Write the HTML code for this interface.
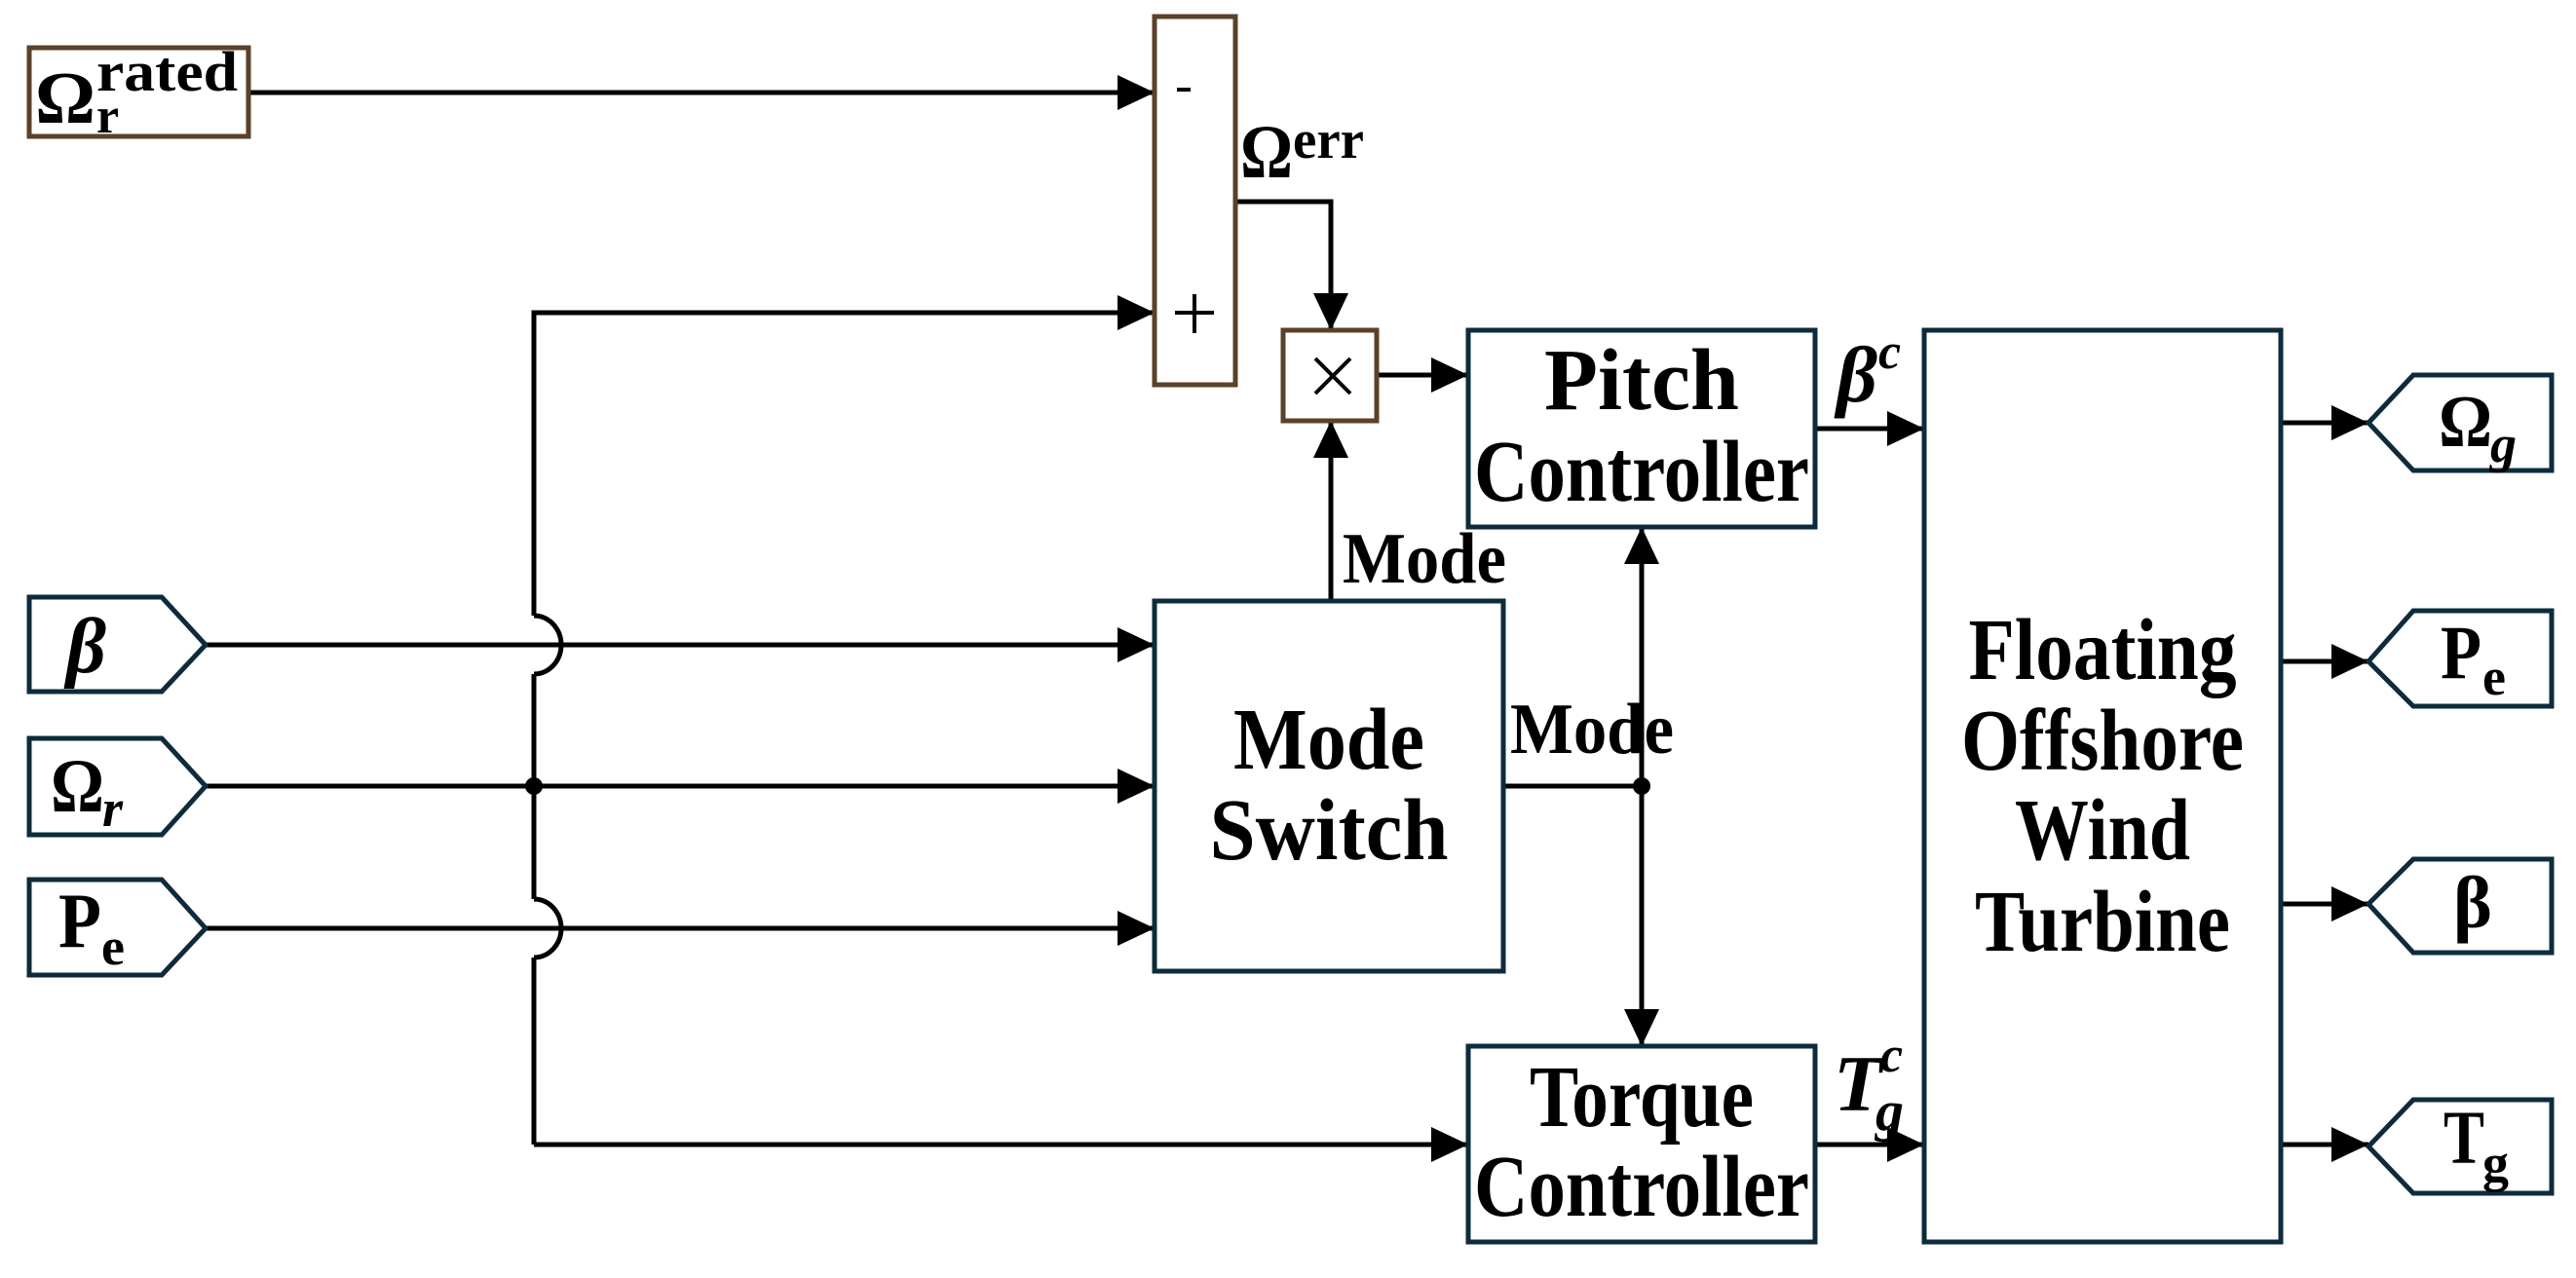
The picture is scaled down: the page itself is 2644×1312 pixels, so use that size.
<!DOCTYPE html>
<html><head><meta charset="utf-8"><style>
html,body{margin:0;padding:0;background:#fff}
svg{display:block}
text{font-family:"Liberation Serif",serif;font-weight:bold;fill:#000}
</style></head><body>
<svg width="2644" height="1312" viewBox="0 0 2644 1312" xmlns="http://www.w3.org/2000/svg">
<defs>
<marker id="a" viewBox="0 0 38 36" refX="38" refY="18" markerWidth="38" markerHeight="36" markerUnits="userSpaceOnUse" orient="auto">
<path d="M0,0 L38,18 L0,36 Z" fill="#000"/></marker>
</defs>
<g fill="none" stroke="#000" stroke-width="5">
<line x1="255" y1="95" x2="1185" y2="95" marker-end="url(#a)"/>
<polyline points="548,1175 548,983" />
<path d="M548,983 A28,30 0 0 0 548,923"/>
<line x1="548" y1="923" x2="548" y2="692"/>
<path d="M548,692 A28,30 0 0 0 548,632"/>
<polyline points="548,632 548,321 1185,321" marker-end="url(#a)"/>
<line x1="548" y1="1175" x2="1507" y2="1175" marker-end="url(#a)"/>
<line x1="211" y1="662" x2="1185" y2="662" marker-end="url(#a)"/>
<line x1="211" y1="807" x2="1185" y2="807" marker-end="url(#a)"/>
<line x1="211" y1="953" x2="1185" y2="953" marker-end="url(#a)"/>
<polyline points="1268,207 1366,207 1366,339" marker-end="url(#a)"/>
<line x1="1366" y1="617" x2="1366" y2="432" marker-end="url(#a)"/>
<line x1="1413" y1="385" x2="1507" y2="385" marker-end="url(#a)"/>
<line x1="1543" y1="807" x2="1685" y2="807"/>
<line x1="1685" y1="807" x2="1685" y2="541" marker-end="url(#a)"/>
<line x1="1685" y1="807" x2="1685" y2="1074" marker-end="url(#a)"/>
<line x1="1863" y1="440" x2="1975" y2="440" marker-end="url(#a)"/>
<line x1="1863" y1="1175" x2="1975" y2="1175" marker-end="url(#a)"/>
<line x1="2341" y1="434" x2="2431" y2="434" marker-end="url(#a)"/>
<line x1="2341" y1="679" x2="2431" y2="679" marker-end="url(#a)"/>
<line x1="2341" y1="928" x2="2431" y2="928" marker-end="url(#a)"/>
<line x1="2341" y1="1175" x2="2431" y2="1175" marker-end="url(#a)"/>
</g>
<circle cx="548" cy="807" r="9" fill="#000"/>
<circle cx="1685" cy="807" r="9" fill="#000"/>
<g fill="#fff" stroke="#5a4128" stroke-width="5">
<rect x="30" y="49" width="225" height="91"/>
<rect x="1185" y="17" width="83" height="378"/>
<rect x="1317" y="339" width="96" height="93"/>
</g>
<g fill="#fff" stroke="#0d2b3b" stroke-width="5">
<rect x="1507" y="339" width="356" height="202"/>
<rect x="1185" y="617" width="358" height="380"/>
<rect x="1507" y="1074" width="356" height="201"/>
<rect x="1975" y="339" width="366" height="936"/>
<polygon points="30,613 166,613 211,662 166,710 30,710"/>
<polygon points="30,758 166,758 211,807 166,857 30,857"/>
<polygon points="30,903 166,903 211,953 166,1001 30,1001"/>
<polygon points="2431,434 2477,385 2619,385 2619,483 2477,483"/>
<polygon points="2431,679 2477,627 2619,627 2619,725 2477,725"/>
<polygon points="2431,928 2477,882 2619,882 2619,978 2477,978"/>
<polygon points="2431,1177 2477,1129 2619,1129 2619,1225 2477,1225"/>
</g>
<g stroke="#000" stroke-width="4">
<line x1="1208" y1="92" x2="1222" y2="92"/>
<line x1="1206" y1="321" x2="1246" y2="321"/>
<line x1="1226" y1="302" x2="1226" y2="342"/>
<line x1="1350" y1="368" x2="1386" y2="404"/>
<line x1="1386" y1="368" x2="1350" y2="404"/>
</g>
<text x="36" y="126" font-size="76" textLength="62" lengthAdjust="spacingAndGlyphs">Ω</text>
<text x="99" y="93" font-size="58" textLength="145" lengthAdjust="spacingAndGlyphs">rated</text>
<text x="99" y="136" font-size="52">r</text>
<text x="1273" y="182" font-size="78" textLength="54" lengthAdjust="spacingAndGlyphs">Ω</text>
<text x="1327" y="162" font-size="56" textLength="73" lengthAdjust="spacingAndGlyphs">err</text>
<g font-size="90" text-anchor="middle">
<text x="1685" y="420" textLength="200" lengthAdjust="spacingAndGlyphs">Pitch</text>
<text x="1685" y="514" textLength="344" lengthAdjust="spacingAndGlyphs">Controller</text>
<text x="1364" y="789" textLength="196" lengthAdjust="spacingAndGlyphs">Mode</text>
<text x="1364" y="882" textLength="245" lengthAdjust="spacingAndGlyphs">Switch</text>
<text x="1685" y="1156" textLength="230" lengthAdjust="spacingAndGlyphs">Torque</text>
<text x="1685" y="1248" textLength="344" lengthAdjust="spacingAndGlyphs">Controller</text>
<text x="2158" y="697" textLength="275" lengthAdjust="spacingAndGlyphs">Floating</text>
<text x="2158" y="790" textLength="290" lengthAdjust="spacingAndGlyphs">Offshore</text>
<text x="2158" y="882" textLength="180" lengthAdjust="spacingAndGlyphs">Wind</text>
<text x="2158" y="976" textLength="262" lengthAdjust="spacingAndGlyphs">Turbine</text>
</g>
<text x="1378" y="598" font-size="74" textLength="168" lengthAdjust="spacingAndGlyphs">Mode</text>
<text x="1550" y="773" font-size="74" textLength="168" lengthAdjust="spacingAndGlyphs">Mode</text>
<text x="1885" y="412" font-size="82" font-style="italic">β</text>
<text x="1928" y="378" font-size="52" font-style="italic">c</text>
<text x="1882" y="1140" font-size="82" font-style="italic">T</text>
<text x="1930" y="1100" font-size="52" font-style="italic">c</text>
<text x="1925" y="1160" font-size="58" font-style="italic">g</text>
<text x="68" y="690" font-size="80" font-style="italic">β</text>
<text x="52" y="833" font-size="78" textLength="55" lengthAdjust="spacingAndGlyphs">Ω</text>
<text x="105" y="848" font-size="54" font-style="italic">r</text>
<text x="60" y="972" font-size="80" textLength="44" lengthAdjust="spacingAndGlyphs">P</text>
<text x="104" y="990" font-size="54">e</text>
<text x="2503" y="458" font-size="76" textLength="55" lengthAdjust="spacingAndGlyphs">Ω</text>
<text x="2556" y="474" font-size="54" font-style="italic">g</text>
<text x="2505" y="696" font-size="78" textLength="42" lengthAdjust="spacingAndGlyphs">P</text>
<text x="2548" y="713" font-size="54">e</text>
<text x="2518" y="952" font-size="76">β</text>
<text x="2508" y="1194" font-size="78" textLength="42" lengthAdjust="spacingAndGlyphs">T</text>
<text x="2548" y="1212" font-size="54">g</text>
</svg>
</body></html>
